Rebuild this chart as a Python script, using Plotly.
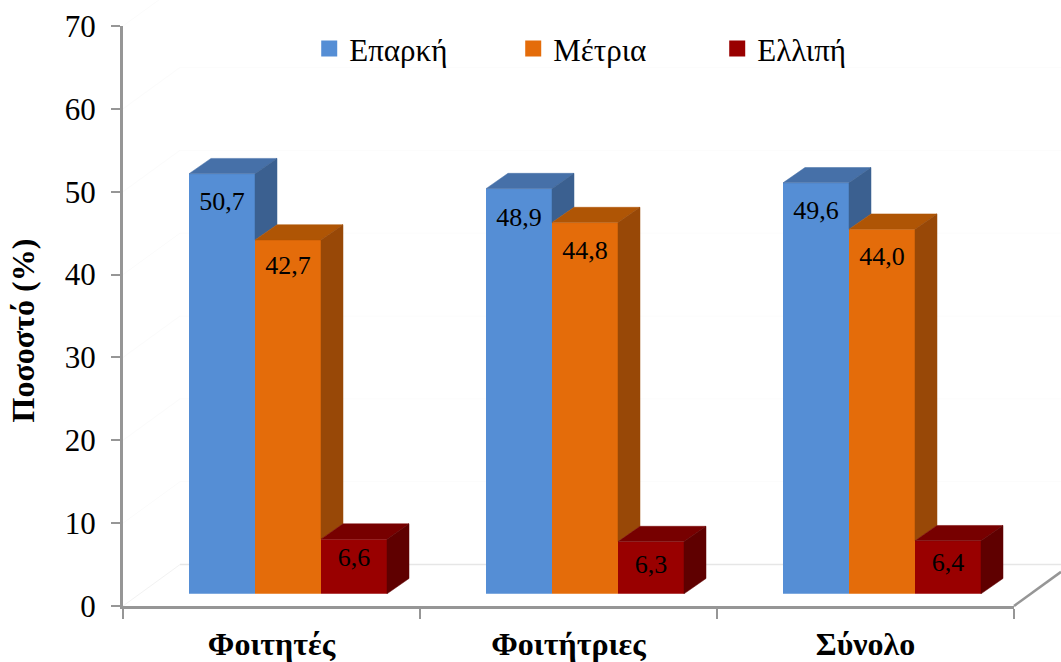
import plotly.graph_objects as go

# Survey shares by group
categories = ["Φοιτητές", "Φοιτήτριες", "Σύνολο"]
series_names = ["Επαρκή", "Μέτρια", "Ελλιπή"]
adequate = [50.7, 48.9, 49.6]
moderate = [42.7, 44.8, 44.0]
poor = [6.6, 6.3, 6.4]
y_ticks = [0, 10, 20, 30, 40, 50, 60, 70]

# Styling: front, top and side face of each series
front_colors = ["#558ED5", "#E46C0A", "#990000"]
top_colors = ["#4670A8", "#AF5505", "#770000"]
side_colors = ["#3B6090", "#984807", "#5F0000"]
FONT = "Liberation Serif"
AXIS_GRAY = "#969696"

# Pseudo-3D geometry in axis units
BAR_W = 66 / 297
GROUP_SHIFT = 16.5 / 297
BASE = 1.47            # bars stand slightly in front of the axis plane
DEPTH_X = 22 / 297
DEPTH_Y = 1.85
WALL_X = 57 / 297
WALL_Y = 5.0
RIGHT_EDGE = 3 + 47 / 297
X_SPAN = 3
Y_SPAN = 70
# how far below a bar's top edge its value label sits, one row per series
label_drop = [[3.6, 3.7, 3.6], [3.3, 3.6, 3.5], [2.5, 3.0, 2.9]]

values = [adequate, moderate, poor]
fig = go.Figure()


def polygon(xs, ys, color):
    fig.add_trace(go.Scatter(x=xs + xs[:1], y=ys + ys[:1], mode="lines", fill="toself",
                             fillcolor=color, line=dict(color=color, width=0.5),
                             hoverinfo="skip", showlegend=False))


def rule(x0, y0, x1, y1, color, width=1):
    # Placed in paper space, under the bars, so it can run past the plot area
    fig.add_shape(type="line", xref="paper", yref="paper", layer="below",
                  x0=x0 / X_SPAN, x1=x1 / X_SPAN, y0=y0 / Y_SPAN, y1=y1 / Y_SPAN,
                  line=dict(color=color, width=width))


# Back wall and floor lines
for tick in y_ticks:
    if tick:
        rule(0, tick, WALL_X, tick + WALL_Y, "#fbfbfb")
        if tick < 70:
            rule(WALL_X, tick + WALL_Y, RIGHT_EDGE, tick + WALL_Y, "#fcfcfc")
rule(0, 0, WALL_X, WALL_Y, "#f2f2f2")
rule(WALL_X, WALL_Y, RIGHT_EDGE, WALL_Y, "#e6e6e6", 1.5)
rule(3, 0, RIGHT_EDGE, WALL_Y * 47 / 57, AXIS_GRAY, 2.5)

# Front faces
centers = [i + 0.5 + GROUP_SHIFT for i in range(len(categories))]
for s, name in enumerate(series_names):
    fig.add_trace(go.Bar(x=centers, y=values[s], base=BASE, name=name,
                         marker=dict(color=front_colors[s], line=dict(width=0)),
                         showlegend=False))

# Top and side faces; a side is only drawn above the top of its right-hand neighbour
for s in range(len(series_names)):
    for c, center in enumerate(centers):
        left = center + (s - 1.5) * BAR_W
        right = left + BAR_W
        top = BASE + values[s][c]
        polygon([left, right, right + DEPTH_X, left + DEPTH_X],
                [top, top, top + DEPTH_Y, top + DEPTH_Y], top_colors[s])
        floor = BASE + values[s + 1][c] if s < len(series_names) - 1 else BASE
        polygon([right, right, right + DEPTH_X, right + DEPTH_X],
                [floor, top, top + DEPTH_Y, floor + DEPTH_Y], side_colors[s])

# Value labels with decimal commas
for s in range(len(series_names)):
    fig.add_trace(go.Scatter(
        x=[center + (s - 1) * BAR_W for center in centers],
        y=[BASE + v - d for v, d in zip(values[s], label_drop[s])],
        text=[f"{v:.1f}".replace(".", ",") for v in values[s]],
        mode="text", textposition="middle center",
        textfont=dict(family=FONT, size=26, color="#000000"),
        hoverinfo="skip", showlegend=False))

# Legend keys
for s, name in enumerate(series_names):
    fig.add_trace(go.Scatter(x=[None], y=[None], mode="markers", name=name,
                             marker=dict(symbol="square", size=16, color=front_colors[s])))

# Vertical axis caption, sitting a little below the middle of the axis
fig.add_annotation(text="<b>Ποσοστό (%)</b>", xref="paper", yref="paper",
                   x=-100 / 891, y=276 / 581, xanchor="center", yanchor="middle",
                   textangle=-90, showarrow=False, font=dict(family=FONT, size=32))

fig.update_layout(
    width=1061, height=662,
    margin=dict(l=123, r=47, t=25.5, b=55.5, autoexpand=False),
    plot_bgcolor="rgba(0,0,0,0)", paper_bgcolor="#ffffff",
    barmode="group", bargap=1 - 3 * BAR_W, bargroupgap=0,
    font=dict(family=FONT, color="#000000"),
    legend=dict(orientation="h", x=0.209, xanchor="left", y=1.007, yanchor="top",
                entrywidth=159, entrywidthmode="pixels", itemsizing="trace",
                bgcolor="rgba(0,0,0,0)", font=dict(family=FONT, size=31)),
    xaxis=dict(range=[0, X_SPAN], showgrid=False, zeroline=False, showline=True, linecolor=AXIS_GRAY,
               linewidth=3, tickmode="array", tickvals=[0.5, 1.5, 2.5],
               ticktext=[f"<b>{c}</b>" for c in categories], ticks="",
               tickfont=dict(family=FONT, size=32), ticklabelstandoff=8,
               minor=dict(tickmode="array", tickvals=[0, 1, 2, 3], ticks="outside", ticklen=10,
                          tickwidth=2, tickcolor=AXIS_GRAY, showgrid=False)),
    yaxis=dict(range=[0, Y_SPAN], tickvals=y_ticks, showgrid=False, zeroline=False, showline=True,
               linecolor=AXIS_GRAY, linewidth=3, ticks="outside", ticklen=9, tickwidth=2,
               tickcolor=AXIS_GRAY, tickfont=dict(family=FONT, size=31), ticklabelstandoff=9),
)

fig.write_html("out.html")
